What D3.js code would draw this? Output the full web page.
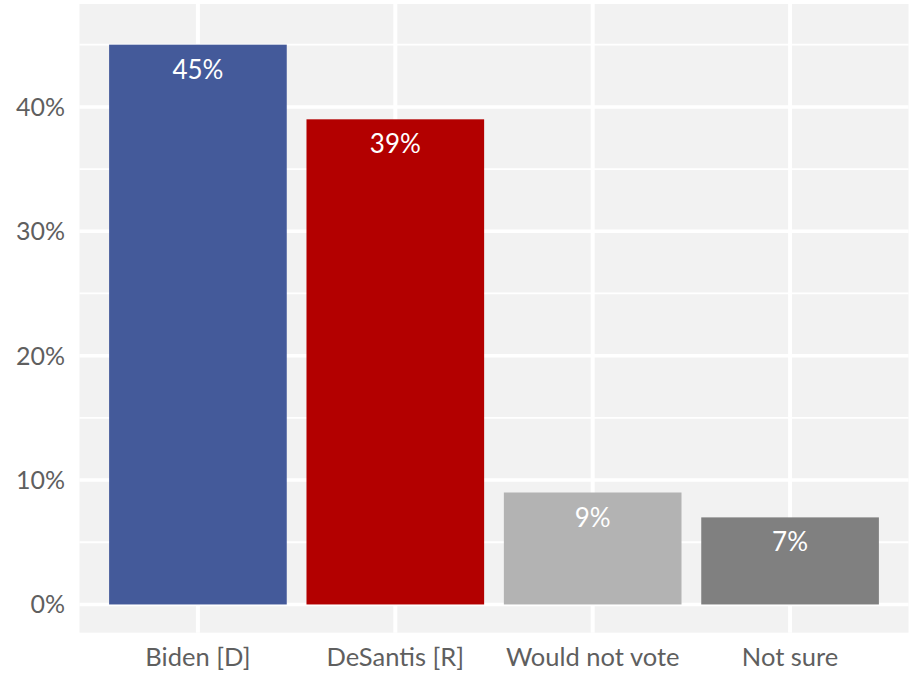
<!DOCTYPE html>
<html><head><meta charset="utf-8">
<script src="https://cdn.jsdelivr.net/npm/d3@7"></script>
<style>body{margin:0;background:#fff}svg{display:block}</style>
</head><body>
<svg id="c" width="914" height="673"></svg>
<script>
const categories = ["Biden [D]", "DeSantis [R]", "Would not vote", "Not sure"];
const values = [45, 39, 9, 7];
const colors = ["#445A9A", "#B30000", "#B3B3B3", "#808080"];
const yTicks = [0, 10, 20, 30, 40];
const yMinor = [5, 15, 25, 35, 45];

(function () {
const svg = d3.select("#c");
const font = "Lato, 'Noto Sans', sans-serif";
const pL = 79.5, pR = 908.5, pT = 4, pB = 632.7;

const x = d3.scaleBand().domain(categories).range([pL, pR]).paddingOuter(0.1).paddingInner(0);
const bw = x.bandwidth();
const y = d3.scaleLinear().domain([-2.27, 48.27]).range([pB, pT]);

svg.append("rect").attr("x", pL).attr("y", pT).attr("width", pR - pL).attr("height", pB - pT).attr("fill", "#F2F2F2");

svg.selectAll(".minor").data(yMinor).join("line")
  .attr("x1", pL).attr("x2", pR).attr("y1", d => y(d)).attr("y2", d => y(d))
  .attr("stroke", "#fff").attr("stroke-width", 1.8);
svg.selectAll(".major").data(yTicks).join("line")
  .attr("x1", pL).attr("x2", pR).attr("y1", d => y(d)).attr("y2", d => y(d))
  .attr("stroke", "#fff").attr("stroke-width", 3.5);
svg.selectAll(".vgrid").data(categories).join("line")
  .attr("x1", d => x(d) + bw / 2).attr("x2", d => x(d) + bw / 2).attr("y1", pT).attr("y2", pB)
  .attr("stroke", "#fff").attr("stroke-width", 4);

svg.selectAll(".bar").data(values).join("rect")
  .attr("x", (d, i) => x(categories[i]) + bw * 0.05)
  .attr("width", bw * 0.9)
  .attr("y", d => y(d)).attr("height", d => y(0) - y(d))
  .attr("fill", (d, i) => colors[i]);

svg.selectAll(".vlab").data(values).join("text")
  .attr("x", (d, i) => x(categories[i]) + bw / 2)
  .attr("y", d => y(d) + 34)
  .attr("text-anchor", "middle").attr("fill", "#fff")
  .style("font-family", font).style("font-size", "26px")
  .text(d => d + "%");

svg.selectAll(".ytick").data(yTicks).join("text")
  .attr("x", 65).attr("y", d => y(d)).attr("dy", "0.36em")
  .attr("text-anchor", "end").attr("fill", "#5f5f5f")
  .style("font-family", font).style("font-size", "25px")
  .text(d => d + "%");

svg.selectAll(".xtick").data(categories).join("text")
  .attr("x", d => x(d) + bw / 2).attr("y", 666)
  .attr("text-anchor", "middle").attr("fill", "#5f5f5f")
  .style("font-family", font).style("font-size", "25.5px")
  .text(d => d);
})();
</script>
</body></html>
